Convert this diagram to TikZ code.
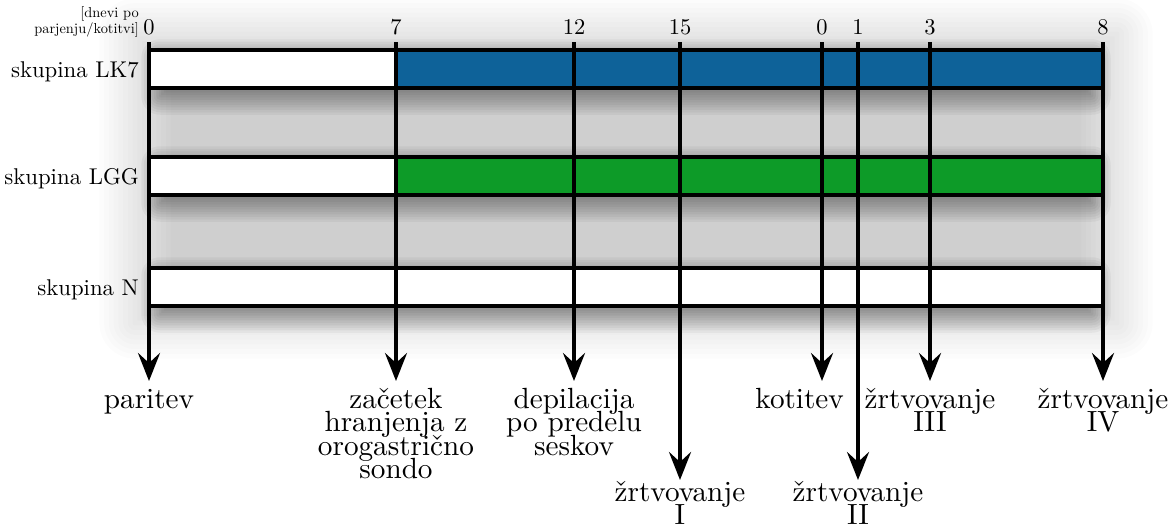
\documentclass[tikz,border=0pt]{standalone}
\usepackage{fontspec}
\IfFontExistsTF{lmroman10-regular.otf}{\setmainfont{lmroman10-regular.otf}}{}
\usetikzlibrary{arrows.meta}
\definecolor{lkblue}{RGB}{14,98,153}
\definecolor{lggreen}{RGB}{13,155,40}

% soft shadow: stacked translucent boxes from +R outside to -R inside the edge
% #1,#2 top-left  #3,#4 bottom-right  #5 radius  #6 opacity per layer  #7 lowest inset
\newcommand\softbox[7]{%
  \foreach \k in {1,...,16}{%
    \pgfmathsetmacro\sbE{max(#5*(1-(\k-0.5)/8),#7)}%
    \pgfmathsetmacro\sbR{max(\sbE,0.1)}%
    \fill[black,opacity=#6,rounded corners=\sbR pt]
      ({#1-\sbE},{#2-\sbE}) rectangle ({#3+\sbE},{#4+\sbE});
  }}
\newcommand\evfont{\fontsize{29.2}{23.5}\selectfont\lineskiplimit=-50pt\relax}
\newcommand\evstrut{\rule{0pt}{21pt}}

\begin{document}
\begin{tikzpicture}[x=1pt,y=-1pt,
  rule/.style={line width=4pt},
  tickarrow/.style={rule,-{Stealth[length=28pt,width=22pt,inset=10pt]}},
  grp/.style={font=\fontsize{22.8}{26}\selectfont, anchor=base east, inner sep=0pt},
  daynum/.style={font=\fontsize{22.5}{24}\selectfont, anchor=base, inner sep=0pt},
  event/.style={font=\evfont, align=center, anchor=north, inner sep=0pt},
]
\useasboundingbox (0,0) rectangle (1174,528);
\clip (0,0) rectangle (1174,528);
\fill[white] (0,0) rectangle (1174,528);

% shadows of the whole block and of each bar
\softbox{135}{34}{1117}{323}{38}{0.0115}{-38}
\softbox{160}{58}{1092}{96}{20}{0.038}{-18}
\softbox{160}{165}{1092}{203}{20}{0.038}{-18}
\softbox{160}{276}{1092}{314}{20}{0.038}{-18}

% group bars
\fill[white] (149,50) rectangle (1103,88);
\fill[lkblue] (396,50) rectangle (1103,88);
\fill[white] (149,157) rectangle (1103,195);
\fill[lggreen] (396,157) rectangle (1103,195);
\fill[white] (149,268) rectangle (1103,306);
\draw[rule] (149,50) rectangle (1103,88);
\draw[rule] (149,157) rectangle (1103,195);
\draw[rule] (149,268) rectangle (1103,306);

% day markers with arrows
\foreach \n/\x/\tip in {a/149/381, b/396/381, c/574/381, d/680/480,
                       e/822/381, f/858/480, g/930/381, h/1103/381}{
  \coordinate (top\n) at (\x,42);
  \coordinate (tip\n) at (\x,\tip);
  \draw[tickarrow] (top\n) -- (tip\n);
}

% day numbers
\node[daynum] (d0)  at (149,34)  {0};
\node[daynum] (d7)  at (396,34)  {7};
\node[daynum] (d12) at (574,34)  {12};
\node[daynum] (d15) at (680,34)  {15};
\node[daynum] (k0)  at (822,34)  {0};
\node[daynum] (k1)  at (858,34)  {1};
\node[daynum] (k3)  at (930,34)  {3};
\node[daynum] (k8)  at (1103,34) {8};

\node[font=\fontsize{14.4}{12.5}\selectfont, align=right, anchor=south east,
      inner sep=0pt] (unit) at (139,37) {[dnevi po\\parjenju/kotitvi]};

% group names
\node[grp] (lk7) at (139,77)  {skupina LK7};
\node[grp] (lgg) at (139,184) {skupina LGG};
\node[grp] (nn)  at (139,295) {skupina N};

% events
\node[event] (paritev) at (149,387) {\evstrut paritev};
\node[event] (zacetek) at (396,387) {\evstrut začetek\\hranjenja z\\orogastrično\\sondo};
\node[event] (depil)   at (574,387) {\evstrut depilacija\\po predelu\\seskov};
\node[event] (zrt1)    at (680,480) {\evstrut žrtvovanje\\I};
\node[event,anchor=north east] (kotitev) at (844,387) {\evstrut kotitev};
\node[event] (zrt2)    at (858,480) {\evstrut žrtvovanje\\II};
\node[event] (zrt3)    at (930,387) {\evstrut žrtvovanje\\III};
\node[event] (zrt4)    at (1103,387) {\evstrut žrtvovanje\\IV};
\end{tikzpicture}
\end{document}
